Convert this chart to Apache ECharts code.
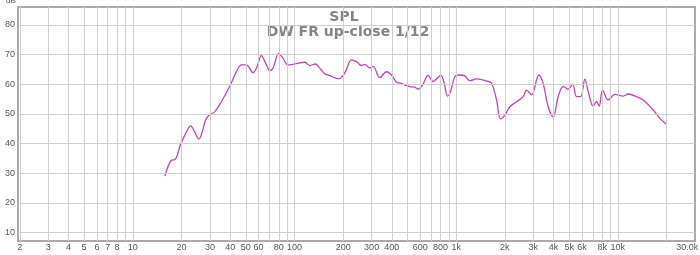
<!DOCTYPE html>
<html>
<head>
<meta charset="utf-8">
<script src="https://cdn.jsdelivr.net/npm/echarts@6/dist/echarts.min.js"></script>
<style>html,body{margin:0;padding:0;background:#fff;}#c{width:700px;height:255px;}</style>
</head>
<body>
<div id="c"></div>
<script>
// Frequency (Hz) of each traced point
const freqs = [15.8,17.3,18.3,19.7,21.4,22.8,24.1,25.7,26.9,28.2,29.9,32.1,35.3,39.7,43.7,47.0,50.4,55.4,58.7,62.4,67.1,70.3,73.7,79.9,84.9,91.2,100.4,115.7,124.3,134.8,143.3,153.9,165.2,187.8,204.6,225.1,241.7,259.6,272.1,292.2,306.3,337.0,370.7,398.1,427.5,459.0,481.1,516.6,554.8,581.5,618.9,670.6,720.1,803.5,838.6,884.0,922.7,980.9,1053,1131,1215,1336,1541,1655,1777,1881,2000,2148,2363,2596,2725,2926,3246,3451,3707,3981,4275,4590,4929,5248,5555,5882,6252,6554,7038,7386,7663,8045,8716,9588,10790,11590,13060,14350,16550,18200,19830];
// SPL (dB) at each frequency
const spl = [29.1,34.4,34.7,39.5,43.8,46.0,44.0,41.5,44.0,47.9,49.8,50.7,54.1,59.2,64.2,66.5,66.5,63.9,65.9,69.6,66.5,64.6,65.4,70.4,68.7,66.5,66.8,67.4,66.3,66.8,65.4,63.5,62.9,61.8,63.7,68.2,67.6,66.3,66.7,65.5,66.0,62.2,64.2,63.1,60.7,60.3,59.7,59.2,59.0,58.3,59.7,63.0,60.9,63.0,60.9,56.0,57.5,62.5,63.1,62.8,61.2,61.8,61.1,60.3,54.7,48.3,49.6,52.4,54.1,55.8,58.0,56.4,63.1,60.3,52.4,49.0,55.8,59.2,58.3,60.0,55.8,55.8,61.7,57.5,52.6,54.1,52.6,58.0,54.7,56.6,56.0,56.7,55.8,54.7,51.3,48.5,46.6];

// vertical grid lines
const xGrid = [2,3,4,5,6,7,8,9,10,20,30,40,50,60,70,80,90,100,200,300,400,500,600,700,800,900,1000,2000,3000,4000,5000,6000,7000,8000,9000,10000,20000];
// x tick labels
const xTickValues = [2,3,4,5,6,7,8,10,20,30,40,50,60,80,100,200,300,400,600,800,1000,2000,3000,4000,5000,6000,8000,10000,30000];
const xTickLabels = ['2','3','4','5','6','7','8','10','20','30','40','50','60','80','100','200','300','400','600','800','1k','2k','3k','4k','5k','6k','8k','10k','30.0k Hz'];
// y ticks
const yTicks = [10,20,30,40,50,60,70,80];

const X_MIN = 1.95, X_MAX = 30000, Y_MIN = 7.2, Y_MAX = 86;
const labelFont = {fontFamily:'Liberation Sans', fontSize:9, color:'#555'};

const chart = echarts.init(document.getElementById('c'), null, {renderer:'canvas'});
const gridLineData = xGrid.map(v => ({xAxis: v})).concat(yTicks.map(v => ({yAxis: v})));
const xLabelPts = xTickValues.map((v,i) => ({
  coord: [v, Y_MIN], value: xTickLabels[i],
  label: {show:true, position:'bottom', distance:2, formatter: xTickLabels[i], ...labelFont,
          offset: (v === 30000 ? [-1,0] : [0,0])}
}));
const yLabelPts = yTicks.map(v => ({
  coord: [X_MIN, v], value: String(v),
  label: {show:true, position:'left', distance:3, formatter: String(v), ...labelFont}
}));

chart.setOption({
  animation: false,
  backgroundColor: '#fff',
  grid: {left:18, right:5, top:7, bottom:14, show:true, borderColor:'#a9a9a9', borderWidth:2, backgroundColor:'#fff'},
  xAxis: {type:'log', logBase:10, min:X_MIN, max:X_MAX,
          axisLine:{show:false}, axisTick:{show:false}, axisLabel:{show:false}, splitLine:{show:false}},
  yAxis: {type:'value', min:Y_MIN, max:Y_MAX,
          axisLine:{show:false}, axisTick:{show:false}, axisLabel:{show:false}, splitLine:{show:false}},
  graphic: [
    {type:'text', x:344, y:17, style:{text:'SPL', fill:'#858585', font:'bold 14px "DejaVu Sans"', textAlign:'center', textVerticalAlign:'middle'}},
    {type:'text', x:348, y:32, style:{text:'DW FR up-close 1/12', fill:'#858585', font:'bold 14px "DejaVu Sans"', textAlign:'center', textVerticalAlign:'middle'}},
    {type:'text', x:11, y:1, style:{text:'dB', fill:'#555', font:'8px "Liberation Sans"', textAlign:'center', textVerticalAlign:'middle'}}
  ],
  series: [
    {
      type:'line', data:[], silent:true, z:1,
      markLine: {silent:true, symbol:['none','none'], animation:false,
                 lineStyle:{color:'#cfcfcf', type:'solid', width:1}, label:{show:false},
                 data: gridLineData},
      markPoint: {silent:true, symbol:'circle', symbolSize:0, animation:false,
                  data: xLabelPts.concat(yLabelPts)}
    },
    {
      type:'line', z:3, showSymbol:false, smooth:0.35,
      data: freqs.map((f,i) => [f, spl[i]]),
      lineStyle:{color:'#c443b5', width:1.3}
    }
  ]
});
</script>
</body>
</html>
